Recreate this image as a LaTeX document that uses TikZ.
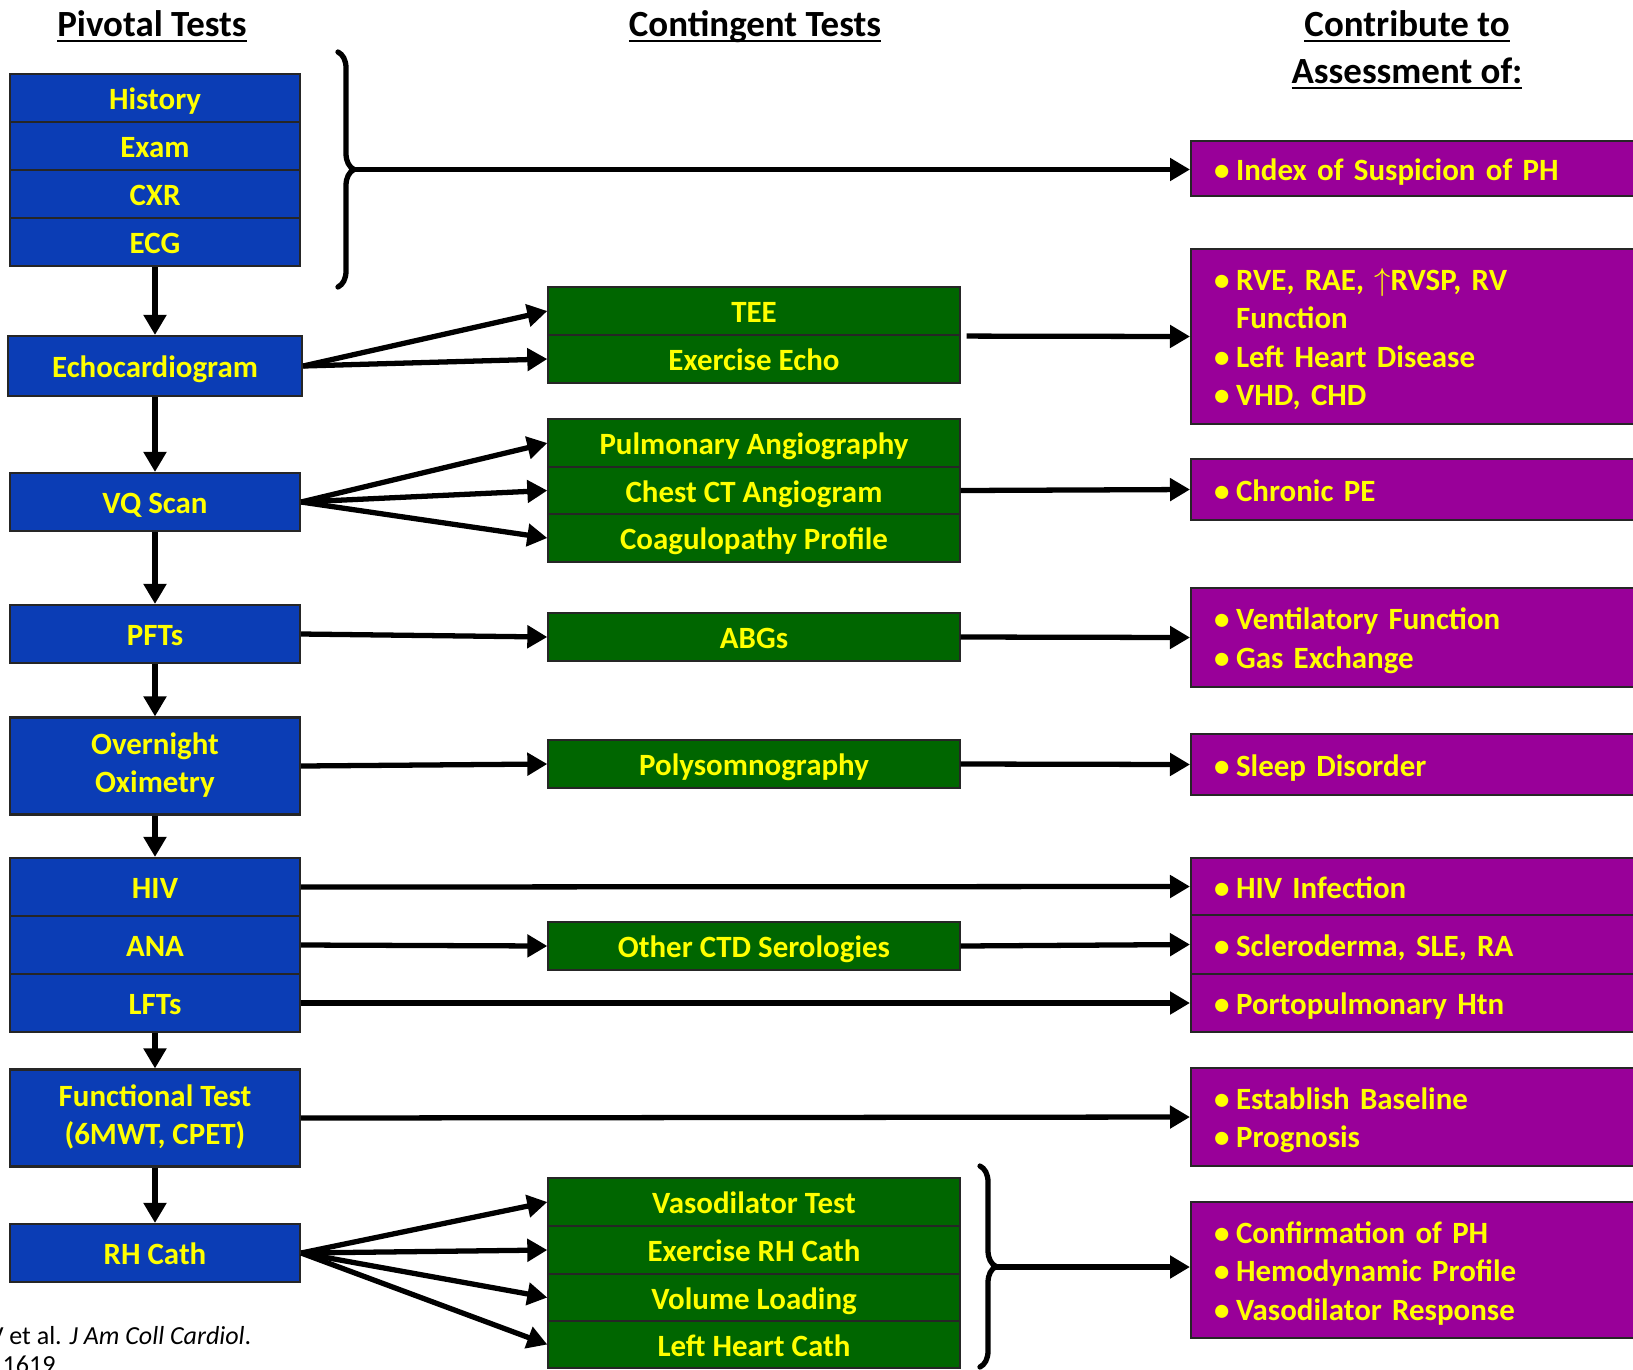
\documentclass[tikz,border=0pt]{standalone}
\usepackage{fontspec}
\setmainfont{Carlito}
\usetikzlibrary{arrows.meta,decorations.pathreplacing}
\definecolor{phblue}{HTML}{0B3DB5}
\definecolor{phgreen}{HTML}{006600}
\definecolor{phpurple}{HTML}{990099}
\definecolor{phyellow}{HTML}{FFFF00}
\newcommand{\phbul}{\makebox[0.22cm][l]{\textbullet}}

\begin{document}
\begin{tikzpicture}[x=0.01cm, y=-0.01cm,
  every node/.style={font=\bfseries\fontsize{8.8}{10.95}\selectfont, text=phyellow},
  boxtext/.style={execute at begin node={\rule{0pt}{0.3cm}}, execute at end node={\rule[-0.07cm]{0pt}{0.07cm}}},
  pivot/.style={boxtext, draw=black!85, line width=0.6pt, rectangle, fill=phblue, minimum width=2.9cm, minimum height=0.58cm, inner sep=0pt, align=center},
  contingent/.style={boxtext, draw=black!85, line width=0.6pt, rectangle, fill=phgreen, minimum width=4.11cm, minimum height=0.48cm, inner sep=0pt, align=center},
  assess/.style={boxtext, draw=black!85, line width=0.6pt, rectangle, fill=phpurple, anchor=west, text width=4.2cm, inner xsep=0.23cm, inner ysep=0pt, align=left},
  heading/.style={text=black, font=\bfseries\fontsize{10.5}{13.3}\selectfont, anchor=base},
  cite/.style={text=black, font=\fontsize{7.4}{9}\selectfont, inner sep=0pt},
  arr/.style={-{Triangle[length=0.2cm,width=0.22cm]}, line width=1.5pt},
  bracket/.style={decorate, decoration={brace, amplitude=0.16cm}, line width=1.5pt, line cap=round}]
  \useasboundingbox (0,0) rectangle (1633,1369);

  % Column headings
  \node[heading] (hpivot) at (152,36) {\underline{\smash{Pivotal Tests}}};
  \node[heading] (hcont) at (755,36) {\underline{\smash{Contingent Tests}}};
  \node[heading] (hcontrib) at (1407,36) {\underline{\smash{Contribute to}}};
  \node[heading] (hassess) at (1407,83) {\underline{\smash{Assessment of:}}};

  % Pivotal tests
  \node[pivot, minimum height=0.48cm] (history) at (155,98) {History};
  \node[pivot, minimum height=0.48cm] (exam) at (155,146) {Exam};
  \node[pivot, minimum height=0.48cm] (cxr) at (155,194) {CXR};
  \node[pivot, minimum height=0.48cm] (ecg) at (155,242) {ECG};
  \node[pivot, minimum width=2.94cm, minimum height=0.6cm] (echo) at (155,366) {Echocardiogram};
  \node[pivot] (vq) at (155,502) {VQ Scan};
  \node[pivot] (pft) at (155,634) {PFTs};
  \node[pivot, minimum height=0.97cm] (oxim) at (155,766) {Overnight\\Oximetry};
  \node[pivot] (hiv) at (155,887) {HIV};
  \node[pivot] (ana) at (155,945) {ANA};
  \node[pivot] (lft) at (155,1003) {LFTs};
  \node[pivot, minimum height=0.97cm] (func) at (155,1118) {Functional Test\\(6MWT, CPET)};
  \node[pivot] (rhc) at (155,1253) {RH Cath};

  % Contingent tests
  \node[contingent] (tee) at (754,311) {TEE};
  \node[contingent] (exe) at (754,359) {Exercise Echo};
  \node[contingent] (pangio) at (754,443) {Pulmonary Angiography};
  \node[contingent, minimum height=0.47cm] (ctangio) at (754,490.5) {Chest CT Angiogram};
  \node[contingent] (coag) at (754,538) {Coagulopathy Profile};
  \node[contingent] (abg) at (754,637) {ABGs};
  \node[contingent] (psg) at (754,764) {Polysomnography};
  \node[contingent] (ctd) at (754,946) {Other CTD Serologies};
  \node[contingent] (vaso) at (754,1202) {Vasodilator Test};
  \node[contingent] (exrhc) at (754,1250) {Exercise RH Cath};
  \node[contingent, minimum height=0.47cm] (volume) at (754,1297.5) {Volume Loading};
  \node[contingent, minimum height=0.47cm] (lhc) at (754,1344.5) {Left Heart Cath};

  % Assessment boxes
  \node[assess, minimum height=0.55cm] (index) at (1190,168.5) {\phbul Index of Suspicion of PH};
  \node[assess, minimum height=1.75cm] (rve) at (1190,336.5) {\phbul RVE, RAE, $\uparrow$RVSP, RV\\\hspace*{0.22cm}Function\\\phbul Left Heart Disease\\\phbul VHD, CHD};
  \node[assess, minimum height=0.61cm] (cpe) at (1190,489.5) {\phbul Chronic PE};
  \node[assess, minimum height=0.99cm] (vent) at (1190,637.5) {\phbul Ventilatory Function\\\phbul Gas Exchange};
  \node[assess, minimum height=0.61cm] (sleep) at (1190,764.5) {\phbul Sleep Disorder};
  \node[assess, minimum height=0.57cm] (hivinf) at (1190,886.5) {\phbul HIV Infection};
  \node[assess, minimum height=0.59cm] (scl) at (1190,944.5) {\phbul Scleroderma, SLE, RA};
  \node[assess, minimum height=0.58cm] (porto) at (1190,1003) {\phbul Portopulmonary Htn};
  \node[assess, minimum height=0.98cm] (base) at (1190,1117) {\phbul Establish Baseline\\\phbul Prognosis};
  \node[assess, minimum height=1.36cm] (confirm) at (1190,1270) {\phbul Confirmation of PH\\\phbul Hemodynamic Profile\\\phbul Vasodilator Response};

  % Braces
  \draw[bracket] (338,52) -- (338,287);
  \coordinate (toptip) at (354,169.5);
  \draw[bracket] (980,1166) -- (980,1367);
  \coordinate (bottip) at (994,1267);

  % Citation
  \node[cite, anchor=base east] (ref1) at (252,1344) {V et al. \textit{J Am Coll Cardiol}.};
  \node[cite, anchor=base west] (ref2) at (2,1373) {1619};

  % Arrows down the pivotal column
  \draw[arr] (ecg) -- (echo);
  \draw[arr] (echo) -- (vq);
  \draw[arr] (vq) -- (pft);
  \draw[arr] (pft) -- (oxim);
  \draw[arr] (oxim) -- (hiv);
  \draw[arr] (lft) -- (func);
  \draw[arr] (func) -- (rhc);

  % Arrows to contingent tests
  \draw[arr] (echo.east) -- (tee.west);
  \draw[arr] (echo.east) -- (exe.west);
  \draw[arr] (vq.east) -- (pangio.west);
  \draw[arr] (vq.east) -- (ctangio.west);
  \draw[arr] (vq.east) -- (coag.west);
  \draw[arr] (pft.east) -- (abg.west);
  \draw[arr] (oxim.east) -- (psg.west);
  \draw[arr] (ana.east) -- (ctd.west);
  \draw[arr] (rhc.east) -- (vaso.west);
  \draw[arr] (rhc.east) -- (exrhc.west);
  \draw[arr] (rhc.east) -- (volume.west);
  \draw[arr] (rhc.east) -- (lhc.west);

  % Arrows to assessments
  \draw[arr] (toptip) -- (toptip -| index.west);
  \draw[arr, shorten <=0.06cm] (tee.south east) -- (rve.west);
  \draw[arr] (ctangio.east) -- (cpe.west);
  \draw[arr] (abg.east) -- (vent.west);
  \draw[arr] (psg.east) -- (sleep.west);
  \draw[arr] (hiv.east) -- (hivinf.west);
  \draw[arr] (ctd.east) -- (scl.west);
  \draw[arr] (lft.east) -- (porto.west);
  \draw[arr] (func.east) -- (base.west);
  \draw[arr] (bottip) -- (bottip -| confirm.west);
\end{tikzpicture}
\end{document}
